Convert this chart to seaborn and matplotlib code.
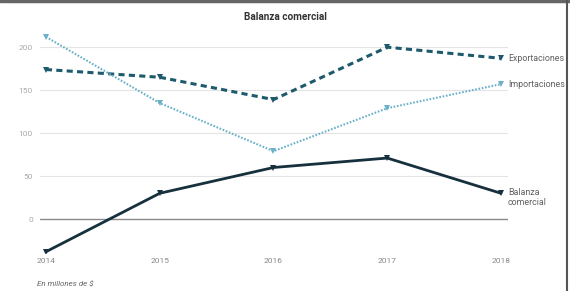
import matplotlib
matplotlib.use("Agg")
import matplotlib.pyplot as plt
import seaborn as sns
import pandas as pd

# data (millones de $)
years = [2014, 2015, 2016, 2017, 2018]
exportaciones = [174, 165, 139, 200, 187]
importaciones = [212, 135, 79, 129, 157]
balanza = [-38, 30, 60, 71, 30]

sns.set_theme(style="white")
plt.rcParams['font.family'] = ['Roboto', 'DejaVu Sans']

fig = plt.figure(figsize=(5.7, 2.91), dpi=100)
ax = fig.add_axes([0.070, 0.129, 0.821, 0.768])

series = [
    ("Exportaciones", exportaciones, "#1d5a6c", (0, (2.0, 1.4)), 2.2, "center", 0),
    ("Importaciones", importaciones, "#6ab0c8", (0, (0.8, 0.8)), 1.5, "center", 0),
    ("Balanza\ncomercial", balanza, "#17303d", "-", 2.0, "top", 6),
]

for name, vals, col, ls, lw, va, dy in series:
    df = pd.DataFrame({"year": years, "value": vals})
    sns.lineplot(data=df, x="year", y="value", ax=ax, color=col, linewidth=lw,
                 linestyle=ls, marker="v", markersize=5, markeredgewidth=0,
                 markerfacecolor=col)
    ax.text(years[-1] + 0.06, vals[-1] + dy, name, fontsize=6.4, color="#606060",
            va=va, ha="left", linespacing=1.1)

ax.set_xlim(2013.947, 2018.06)
ax.set_ylim(-40, 220)
ax.set_xticks(years)
ax.set_yticks([0, 50, 100, 150, 200])
ax.tick_params(axis="both", labelsize=6, colors="#aaaaaa", length=0)
ax.tick_params(axis="x", pad=3)
ax.tick_params(axis="y", pad=5)
for lbl in ax.get_xticklabels():
    lbl.set_color("#888888")
ax.set_xlabel("")
ax.set_ylabel("")
for s in ax.spines.values():
    s.set_visible(False)
for yv in [50, 100, 150, 200]:
    ax.axhline(yv, color="#e4e4e4", lw=0.8, zorder=0)
ax.axhline(0, color="#8a8a8a", lw=1.0, zorder=0)

fig.text(0.5, 0.94, "Balanza comercial", ha="center", va="center",
         fontsize=7.2, fontweight="bold", color="#333333")
fig.text(0.065, 0.025, "En millones de $", ha="left", va="center",
         fontsize=5.8, style="italic", color="#666666")

# frame edges seen in the screenshot
fig.add_artist(plt.Line2D([0, 1], [0.995, 0.995], transform=fig.transFigure,
                          color="#666666", lw=2.5))
fig.add_artist(plt.Line2D([0.9956, 0.9956], [0, 1], transform=fig.transFigure,
                          color="#555555", lw=1.5))

fig.savefig("out.png", dpi=100)
